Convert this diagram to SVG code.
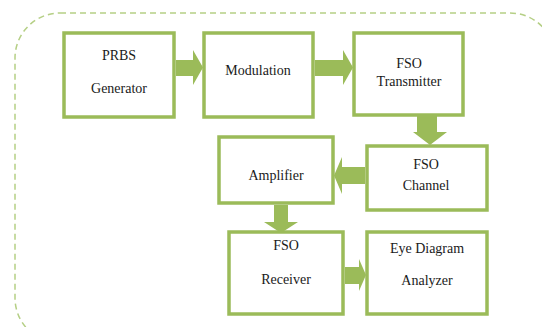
<svg xmlns="http://www.w3.org/2000/svg" width="542" height="327" viewBox="0 0 542 327">
  <style>
    .box { fill: #ffffff; stroke: #9bbb59; stroke-width: 3.5; }
    .arrow { fill: #9bbb59; stroke: none; }
    .lbl { font-family: "Liberation Serif", "Times New Roman", serif; font-size: 14px; fill: #1a1a1a; text-anchor: middle; }
    .frame { fill: none; stroke: #b5cf85; stroke-width: 1.5; stroke-dasharray: 6 4; }
  </style>

  <!-- dashed rounded frame around the chain -->
  <rect class="frame" x="15" y="13" width="540" height="330" rx="45" ry="45"/>

  <g id="prbs">
    <rect class="box" x="64" y="33" width="110" height="84"/>
    <text class="lbl" x="119" y="60">PRBS</text>
    <text class="lbl" x="119" y="93">Generator</text>
  </g>
  <g id="modulation">
    <rect class="box" x="204" y="33" width="109" height="84"/>
    <text class="lbl" x="258" y="75">Modulation</text>
  </g>
  <g id="fso-transmitter">
    <rect class="box" x="354" y="33" width="109" height="82"/>
    <text class="lbl" x="409" y="68">FSO</text>
    <text class="lbl" x="409" y="86">Transmitter</text>
  </g>
  <g id="fso-channel">
    <rect class="box" x="367" y="146" width="120" height="64"/>
    <text class="lbl" x="426" y="169">FSO</text>
    <text class="lbl" x="426" y="190">Channel</text>
  </g>
  <g id="amplifier">
    <rect class="box" x="219" y="137" width="114" height="66"/>
    <text class="lbl" x="276" y="180">Amplifier</text>
  </g>
  <g id="fso-receiver">
    <rect class="box" x="229" y="232" width="114" height="82"/>
    <text class="lbl" x="286" y="250">FSO</text>
    <text class="lbl" x="286" y="284">Receiver</text>
  </g>
  <g id="eye-diagram-analyzer">
    <rect class="box" x="367" y="232" width="120" height="82"/>
    <text class="lbl" x="427" y="253">Eye Diagram</text>
    <text class="lbl" x="427" y="285">Analyzer</text>
  </g>

  <g id="connectors">
    <!-- PRBS -> Modulation -->
    <polygon class="arrow" points="176,60 193,60 193,50 203,67.5 193,85 193,76 176,76"/>
    <!-- Modulation -> Transmitter -->
    <polygon class="arrow" points="315,60 343,60 343,50 353,67.5 343,85 343,76 315,76"/>
    <!-- Transmitter -> Channel -->
    <polygon class="arrow" points="417,116 437,116 437,132 447,132 430,145 413,132 417,132"/>
    <!-- Channel -> Amplifier -->
    <polygon class="arrow" points="365,167 342,167 342,157 334,175.5 342,194 342,184 365,184"/>
    <!-- Amplifier -> Receiver -->
    <polygon class="arrow" points="274,205 288,205 288,222 298,222 281,233 264,222 274,222"/>
    <!-- Receiver -> Eye Diagram Analyzer -->
    <polygon class="arrow" points="345,267 359,267 359,259 366,275 359,291 359,284 345,284"/>
  </g>
</svg>
